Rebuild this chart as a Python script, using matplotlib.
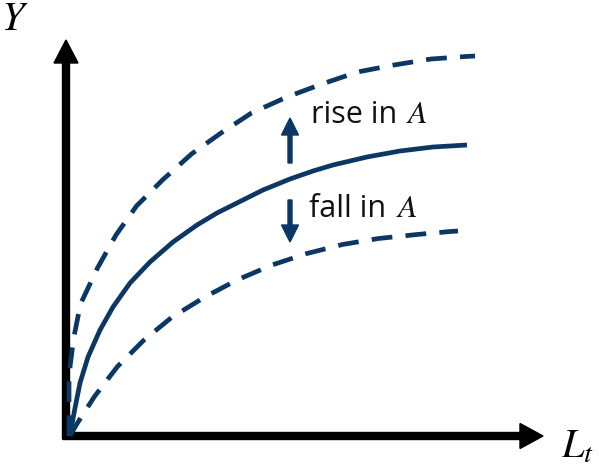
import matplotlib
matplotlib.use("Agg")
import matplotlib.pyplot as plt

plt.rcParams['font.family'] = ['Open Sans', 'DejaVu Sans']
plt.rcParams['mathtext.fontset'] = 'stix'

# Labour input (L_t) and output (Y)
L_base = [4, 6, 9, 14, 22, 34, 47, 64, 84, 107, 131, 151, 171, 197, 224, 247, 267,
          301, 334, 367, 401]
Y_base = [0, 12, 28, 53, 79, 106, 129, 153, 174, 194, 211, 223, 233, 246, 257, 265, 271,
          279, 285, 289, 291]

L_rise = [3, 3, 3, 7.5, 14.5, 31.5, 50, 70.5, 96.5, 125.5, 155, 185.5, 221, 256,
          291.5, 328, 365, 400, 409]
Y_rise = [0, 16, 61, 97, 132, 168, 201, 230, 256, 282, 303, 323, 339, 352,
          364, 371, 377, 379.5, 380]

L_fall = [4, 10.5, 28.5, 51.5, 77.5, 105.5, 138, 171, 206, 241, 276.5, 312.5, 351,
          384.5, 392]
Y_fall = [0, 11.5, 39.5, 69.5, 95.5, 118.5, 138.5, 156, 171, 182.5, 191.5, 197.5, 201.5,
          204.5, 205]

labels = ["rise in", "fall in"]
symbol = "$A$"
x_label = "$L_t$"
y_label = "$Y$"

navy = '#0b3764'

fig = plt.figure(figsize=(5.99, 4.72), dpi=100)
ax = fig.add_axes([0, 0, 1, 1])
ax.set_xlim(-66, 533)
ax.set_ylim(-36, 436)
ax.axis('off')

lw = 3.4
ax.plot(L_base, Y_base, color=navy, lw=lw, solid_capstyle='butt', solid_joinstyle='round')
ax.plot(L_rise, Y_rise, color=navy, lw=lw, dashes=(4.4, 2.8))
ax.plot(L_fall, Y_fall, color=navy, lw=lw, dashes=(4.4, 2.8))

# axes arrows
ax.arrow(0, -3, 0, 399 - 23, width=7, head_width=24, head_length=23,
         length_includes_head=False, color='black', zorder=1)
ax.arrow(-3, 0, 480 - 23, 0, width=7, head_width=25, head_length=23,
         length_includes_head=False, color='black', zorder=1)

# shift arrows
ax.arrow(224, 273, 0, 45 - 17, width=4, head_width=17, head_length=17, color=navy)
ax.arrow(224, 236, 0, -(42 - 17), width=4, head_width=17, head_length=17, color=navy)

ax.text(245, 313, labels[0], fontsize=22, va='baseline', ha='left', color='#111111')
ax.text(340, 313, symbol, fontsize=23, va='baseline', ha='left', color='#111111')
ax.text(243, 219, labels[1], fontsize=22, va='baseline', ha='left', color='#111111')
ax.text(330, 219, symbol, fontsize=23, va='baseline', ha='left', color='#111111')

ax.text(-51, 416, y_label, fontsize=29, va='center', ha='center')
ax.text(512, -11, x_label, fontsize=29, va='center', ha='center')

fig.savefig('out.png', dpi=100)
